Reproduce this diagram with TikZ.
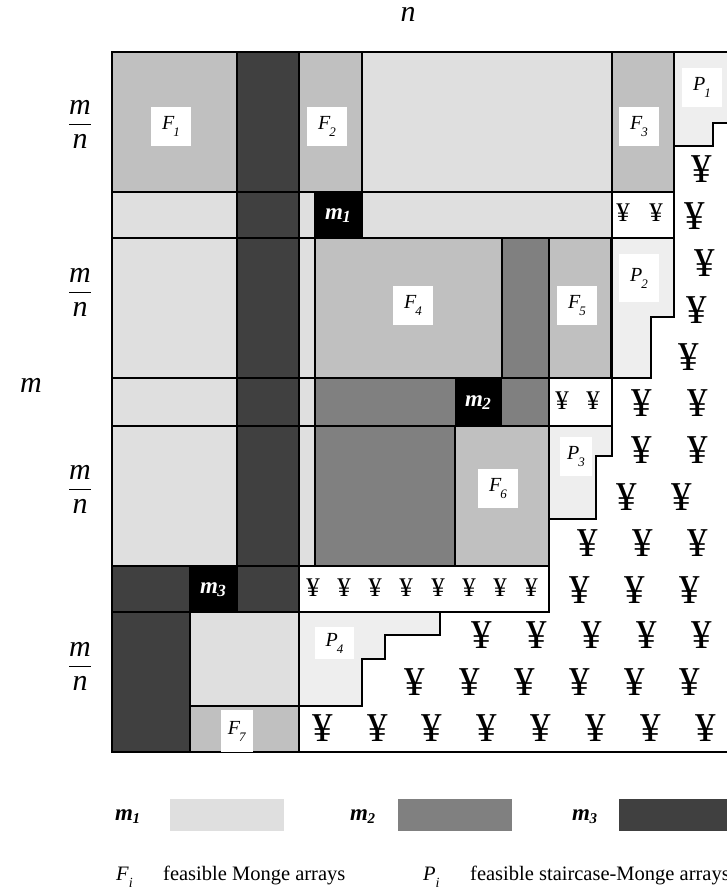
\documentclass[tikz,border=0pt]{standalone}
\usepackage{amsmath}
\usepackage{fontspec}
\setmainfont{Liberation Serif}
\definecolor{cLight}{HTML}{DFDFDF}
\definecolor{cFeas}{HTML}{C0C0C0}
\definecolor{cMid}{HTML}{808080}
\definecolor{cDark}{HTML}{404040}
\definecolor{cStair}{HTML}{EEEEEE}
\newcommand\flab[2]{\textit{#1}\kern-1pt\raisebox{-0.35em}{\fontsize{13}{13}\selectfont\textit{#2}}}
\newcommand\mbold[3]{{\fontsize{#1}{#1}\selectfont\bfseries\itshape m}\kern-0.5pt\raisebox{-0.3em}{\fontsize{#2}{#2}\selectfont\bfseries\itshape #3}}
\newcommand\legsub[2]{\textit{#1}\raisebox{-0.35em}{\fontsize{14}{14}\selectfont\textit{#2}}}
\newcommand\mfrac{$\dfrac{\textit{m}}{\textit{n}}$}
\tikzset{
  gridline/.style={line width=1.6pt, line cap=rect},
  stairbox/.style={fill=cStair, draw=black, line width=1.6pt, line join=miter},
  lblbox/.style={fill=white, inner sep=0pt, minimum width=40pt, minimum height=39pt, font=\fontsize{20}{20}\selectfont},
  bigyen/.style={inner sep=0pt, font=\fontsize{41}{41}\selectfont},
  smallyen/.style={inner sep=0pt, font=\fontsize{27}{27}\selectfont},
  mboxtxt/.style={inner sep=0pt, text=white},
  axislbl/.style={inner sep=0pt, font=\fontsize{30}{36}\selectfont\itshape},
  fraclbl/.style={inner sep=0pt, font=\fontsize{30}{36}\selectfont},
  legtxt/.style={inner sep=0pt, font=\fontsize{20.5}{24}\selectfont},
}
\begin{document}
\begin{tikzpicture}[x=1pt,y=-1pt]
\useasboundingbox (0,0) rectangle (727,889);
\clip (0,0) rectangle (727,889);
% ---------- fills ----------
\fill[cFeas] (112,52) rectangle (237,192);
\fill[cDark] (237,52) rectangle (299,612);
\fill[cFeas] (299,52) rectangle (362,192);
\fill[cLight] (362,52) rectangle (612,192);
\fill[cFeas] (612,52) rectangle (674,192);
\fill[cLight] (112,192) rectangle (237,238);
\fill[cLight] (299,192) rectangle (314,238);
\fill[black] (314,192) rectangle (362,238);
\fill[cLight] (362,192) rectangle (612,238);
\fill[cLight] (112,238) rectangle (237,566);
\fill[cLight] (299,238) rectangle (315,566);
\fill[cFeas] (315,238) rectangle (502,378);
\fill[cMid] (502,238) rectangle (549,378);
\fill[cFeas] (549,238) rectangle (611,378);
\fill[cMid] (315,378) rectangle (455,426);
\fill[black] (455,378) rectangle (502,426);
\fill[cMid] (502,378) rectangle (549,426);
\fill[cMid] (315,426) rectangle (455,566);
\fill[cFeas] (455,426) rectangle (549,566);
\fill[cDark] (112,566) rectangle (190,752);
\fill[black] (190,566) rectangle (237,612);
\fill[cLight] (190,612) rectangle (299,706);
\fill[cFeas] (190,706) rectangle (299,752);
% ---------- staircase regions ----------
\draw[stairbox] (674,52) -- (740,52) -- (740,123) -- (713,123) -- (713,146) -- (674,146) -- cycle;
\draw[stairbox] (611,238) -- (674,238) -- (674,317) -- (651,317) -- (651,378) -- (611,378) -- cycle;
\draw[stairbox] (549,426) -- (612,426) -- (612,456) -- (596,456) -- (596,519) -- (549,519) -- cycle;
\draw[stairbox] (299,612) -- (440,612) -- (440,635) -- (385,635) -- (385,659) -- (362,659) -- (362,706) -- (299,706) -- cycle;
% ---------- grid lines ----------
\draw[gridline] (112,52) -- (740,52);
\draw[gridline] (112,752) -- (740,752);
\draw[gridline] (112,52) -- (112,752);
\draw[gridline] (112,192) -- (674,192);
\draw[gridline] (112,238) -- (674,238);
\draw[gridline] (112,378) -- (611,378);
\draw[gridline] (112,426) -- (612,426);
\draw[gridline] (112,566) -- (549,566);
\draw[gridline] (112,612) -- (549,612);
\draw[gridline] (190,706) -- (299,706);
\draw[gridline] (190,566) -- (190,752);
\draw[gridline] (237,52) -- (237,612);
\draw[gridline] (299,52) -- (299,752);
\draw[gridline] (315,238) -- (315,566);
\draw[gridline] (362,52) -- (362,238);
\draw[gridline] (455,426) -- (455,566);
\draw[gridline] (502,238) -- (502,378);
\draw[gridline] (549,238) -- (549,612);
\draw[gridline] (612,52) -- (612,426);
\draw[gridline] (674,52) -- (674,238);
% ---------- label boxes ----------
\node[lblbox] (F1) at (171,126.5) {\flab{F}{1}};
\node[lblbox] (F2) at (327,126.5) {\flab{F}{2}};
\node[lblbox] (F3) at (639,126.5) {\flab{F}{3}};
\node[lblbox] (P1) at (702,87.5) {\flab{P}{1}};
\node[lblbox] (F4) at (413,305.5) {\flab{F}{4}};
\node[lblbox] (F5) at (577,305.5) {\flab{F}{5}};
\node[lblbox, minimum height=48pt] (P2) at (639,278) {\flab{P}{2}};
\node[lblbox, minimum width=32pt] (P3) at (576,456.5) {\flab{P}{3}};
\node[lblbox] (F6) at (498,488.5) {\flab{F}{6}};
\node[lblbox, minimum width=39pt, minimum height=32pt] (P4) at (334.5,643) {\flab{P}{4}};
\node[lblbox, minimum width=32pt, minimum height=42pt] (F7) at (237,731) {\flab{F}{7}};
% ---------- m boxes ----------
\node[mboxtxt] (m1) at (338,216) {\mbold{23}{17}{1}};
\node[mboxtxt] (m2) at (478,403) {\mbold{23}{17}{2}};
\node[mboxtxt] (m3) at (213,590) {\mbold{23}{17}{3}};
% ---------- yen signs ----------
\foreach \px/\py [count=\k] in {623/213, 656/213, 562/401, 593/401,
  313/588, 344/588, 375/588, 406/588, 438/588, 469/588, 500/588, 531/588}
  \node[smallyen] (sy\k) at (\px,\py) {¥};
\foreach \px/\py [count=\k] in {702/169, 695/216,
  705/263, 697/310, 689/357,
  642/403, 698/403,
  642/450, 698/450,
  627/497, 682/497,
  588/543, 643/543, 698/543,
  580/590, 635/590, 690/590,
  482/635, 537/635, 592/635, 647/635, 702/635,
  415/682, 470/682, 525/682, 580/682, 635/682, 690/682,
  323/728, 378/728, 432/728, 487/728, 541/728, 596/728, 651/728, 706/728}
  \node[bigyen] (by\k) at (\px,\py) {¥};
% ---------- axis labels ----------
\node[axislbl, anchor=base, text height=13pt, text depth=0pt] (nlab) at (408,21) {n};
\node[axislbl] (mlab) at (31,385) {m};
\node[fraclbl] (fr1) at (80,124) {\mfrac};
\node[fraclbl] (fr2) at (80,292) {\mfrac};
\node[fraclbl] (fr3) at (80,489) {\mfrac};
\node[fraclbl] (fr4) at (80,666) {\mfrac};
% ---------- legend ----------
\node[inner sep=0pt, anchor=base west] (lm1) at (115,820) {\mbold{23}{15}{1}};
\fill[cLight] (170,799) rectangle (284,831);
\node[inner sep=0pt, anchor=base west] (lm2) at (350,820) {\mbold{23}{15}{2}};
\fill[cMid] (398,799) rectangle (512,831);
\node[inner sep=0pt, anchor=base west] (lm3) at (572,820) {\mbold{23}{15}{3}};
\fill[cDark] (619,799) rectangle (740,831);
\node[legtxt, anchor=base west] (lFi) at (116,880) {\legsub{F}{i}};
\node[legtxt, anchor=base west] (lFt) at (163,880) {feasible Monge arrays};
\node[legtxt, anchor=base west] (lPi) at (423,880) {\legsub{P}{i}};
\node[legtxt, anchor=base west] (lPt) at (470,880) {feasible staircase-Monge arrays};
\end{tikzpicture}
\end{document}
